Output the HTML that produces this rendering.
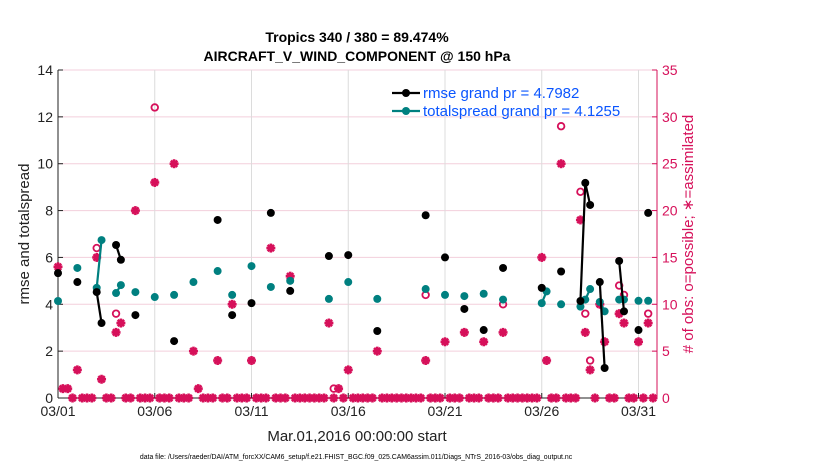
<!DOCTYPE html>
<html><head><meta charset="utf-8"><style>
body{margin:0;background:#fff;}
svg{display:block;font-family:"Liberation Sans",sans-serif;}
</style></head><body>
<svg id="chart" width="830" height="470"></svg>
<script>
const rmseT=[0,1,2,2.25,3,3.25,4,6,8.25,9,10,11,12,14,15,16.5,19,20,21,22,23,25,26,27,27.25,27.5,28,28.25,29,29.25,30,30.5];
const rmseV=[5.33,4.95,4.52,3.2,6.53,5.9,3.54,2.43,7.6,3.54,4.05,7.9,4.57,6.06,6.1,2.86,7.8,6.0,3.8,2.9,5.55,4.7,5.4,4.14,9.18,8.24,4.95,1.28,5.85,3.7,2.9,7.9];
const sprT=[0,1,2,2.25,3,3.25,4,5,6,7,8.25,9,10,11,12,14,15,16.5,19,20,21,22,23,25,25.25,26,27,27.25,27.5,28,28.25,29,29.25,30,30.5];
const sprV=[4.14,5.55,4.7,6.74,4.48,4.82,4.52,4.31,4.4,4.95,5.42,4.4,5.63,4.74,5.0,4.23,4.95,4.23,4.65,4.4,4.35,4.45,4.2,4.05,4.55,4.0,3.9,4.2,4.65,4.1,3.7,4.2,4.2,4.15,4.15];
const asmT=[0,0.25,0.5,1,2,2.25,3,3.25,4,5,6,7,7.25,8.25,9,10,11,12,14,14.5,15,16.5,19,20,21,22,23,25,25.25,26,27,27.25,27.5,28,28.25,29,29.25,30,30.5];
const asmV=[14,1,1,3,15,2,7,8,20,23,25,5,1,4,10,4,16,13,8,1,3,5,4,6,7,6,7,15,4,25,19,7,3,10,6,9,8,6,8];
const posT=[2,3,5,14.25,19,23,26,27,27.25,27.5,29,29.25,30.5];
const posV=[16,9,31,1,11,10,29,22,9,4,12,11,9];
const xTickDays=[0,5,10,15,20,25,30];
const xTickLabels=["03/01","03/06","03/11","03/16","03/21","03/26","03/31"];
const yTicks=[0,2,4,6,8,10,12,14];
const y2Ticks=[0,5,10,15,20,25,30,35];

const L=58,R=657,T=70,B=398;
const X=d=>L+d*19.35;
const Y=v=>B-v*(B-T)/14;
const Y2=v=>B-v*(B-T)/35;
const svg=document.getElementById('chart');
const NS='http://www.w3.org/2000/svg';
function mk(tag,attrs,parent){const e=document.createElementNS(NS,tag);for(const k in attrs)e.setAttribute(k,attrs[k]);(parent||svg).appendChild(e);return e;}
const MAG='#d6105a',TEAL='#008080';

yTicks.forEach(v=>{const l=mk('line',{x1:L,x2:R,y1:Y(v),y2:Y(v),stroke:'#f3cfdc','stroke-width':1});

});
xTickDays.forEach((d,i)=>{const l=mk('line',{x1:X(d),x2:X(d),y1:T,y2:B,stroke:'#dcdcdc','stroke-width':1});


const t=mk('text',{x:X(d),y:B+18,'text-anchor':'middle','font-size':14,fill:'#222'});t.textContent=xTickLabels[i];


mk('line',{x1:X(d),x2:X(d),y1:B,y2:B-5,stroke:'#222'});});
mk('line',{x1:L,x2:L,y1:T,y2:B,stroke:'#222'});
mk('line',{x1:L,x2:R,y1:B,y2:B,stroke:'#222'});
mk('line',{x1:R,x2:R,y1:T,y2:B,stroke:MAG});
yTicks.forEach(v=>{const t=mk('text',{x:L-5,y:Y(v)+5,'text-anchor':'end','font-size':14,fill:'#222'});t.textContent=v;


mk('line',{x1:L,x2:L+5,y1:Y(v),y2:Y(v),stroke:'#222'});});
y2Ticks.forEach(v=>{const t=mk('text',{x:R+5,y:Y2(v)+5,'font-size':14,fill:MAG});t.textContent=v;


mk('line',{x1:R,x2:R-5,y1:Y2(v),y2:Y2(v),stroke:MAG});});

function star(cx,cy,parent){const g=mk('g',{},parent);
for(let a=0;a<4;a++){const ang=a*Math.PI/4;mk('line',{x1:cx-4.5*Math.cos(ang),y1:cy-4.5*Math.sin(ang),x2:cx+4.5*Math.cos(ang),y2:cy+4.5*Math.sin(ang),stroke:MAG,'stroke-width':2.6},g);}
mk('circle',{cx:cx,cy:cy,r:3,fill:MAG},g);return g;}
for(let i=0;i<124;i++){const d=i*0.25;if(asmT.includes(d))continue;const g=star(X(d),B);

}
posT.forEach((d,i)=>{const c=mk('circle',{cx:X(d),cy:Y2(posV[i]),r:3.3,fill:'none',stroke:MAG,'stroke-width':1.8});

});
asmT.forEach((d,i)=>{const g=star(X(d),Y2(asmV[i]));

});

function series(ts,vs,col,name){
for(let i=1;i<ts.length;i++){if(Math.abs(ts[i]-ts[i-1]-0.25)<0.01){const l=mk('line',{x1:X(ts[i-1]),y1:Y(vs[i-1]),x2:X(ts[i]),y2:Y(vs[i]),stroke:col,'stroke-width':2.2});

}}
ts.forEach((d,i)=>{const c=mk('circle',{cx:X(d),cy:Y(vs[i]),r:4,fill:col});

});}
series(sprT,sprV,TEAL,'totalspread');
series(rmseT,rmseV,'#000','rmse');

const lg=mk('g',{});


mk('line',{x1:392,x2:420,y1:93,y2:93,stroke:'#000','stroke-width':2.2},lg);mk('circle',{cx:406,cy:93,r:4,fill:'#000'},lg);
mk('line',{x1:392,x2:420,y1:111,y2:111,stroke:TEAL,'stroke-width':2.2},lg);mk('circle',{cx:406,cy:111,r:4,fill:TEAL},lg);
let t=mk('text',{x:423,y:98,'font-size':15,fill:'#0a55ff'},lg);t.textContent='rmse grand pr = 4.7982';
t=mk('text',{x:423,y:116,'font-size':15,fill:'#0a55ff'},lg);t.textContent='totalspread grand pr = 4.1255';

t=mk('text',{x:357,y:42,'text-anchor':'middle','font-size':14,'font-weight':'bold',fill:'#000'});t.textContent='Tropics 340 / 380 = 89.474%';


t=mk('text',{x:357,y:61,'text-anchor':'middle','font-size':14,'font-weight':'bold',fill:'#000'});t.textContent='AIRCRAFT_V_WIND_COMPONENT @ 150 hPa';


t=mk('text',{x:29,y:234,'text-anchor':'middle','font-size':15,fill:'#222',transform:'rotate(-90 29 234)'});t.textContent='rmse and totalspread';


t=mk('text',{x:693,y:234,'text-anchor':'middle','font-size':15,fill:MAG,transform:'rotate(-90 693 234)'});t.textContent='# of obs: o=possible; \u2217=assimilated';


t=mk('text',{x:357,y:441,'text-anchor':'middle','font-size':15,fill:'#222'});t.textContent='Mar.01,2016 00:00:00 start';


t=mk('text',{x:356,y:459,'text-anchor':'middle','font-size':6.9,fill:'#000'});t.textContent='data file: /Users/raeder/DAI/ATM_forcXX/CAM6_setup/f.e21.FHIST_BGC.f09_025.CAM6assim.011/Diags_NTrS_2016-03/obs_diag_output.nc';


</script>
</body></html>
